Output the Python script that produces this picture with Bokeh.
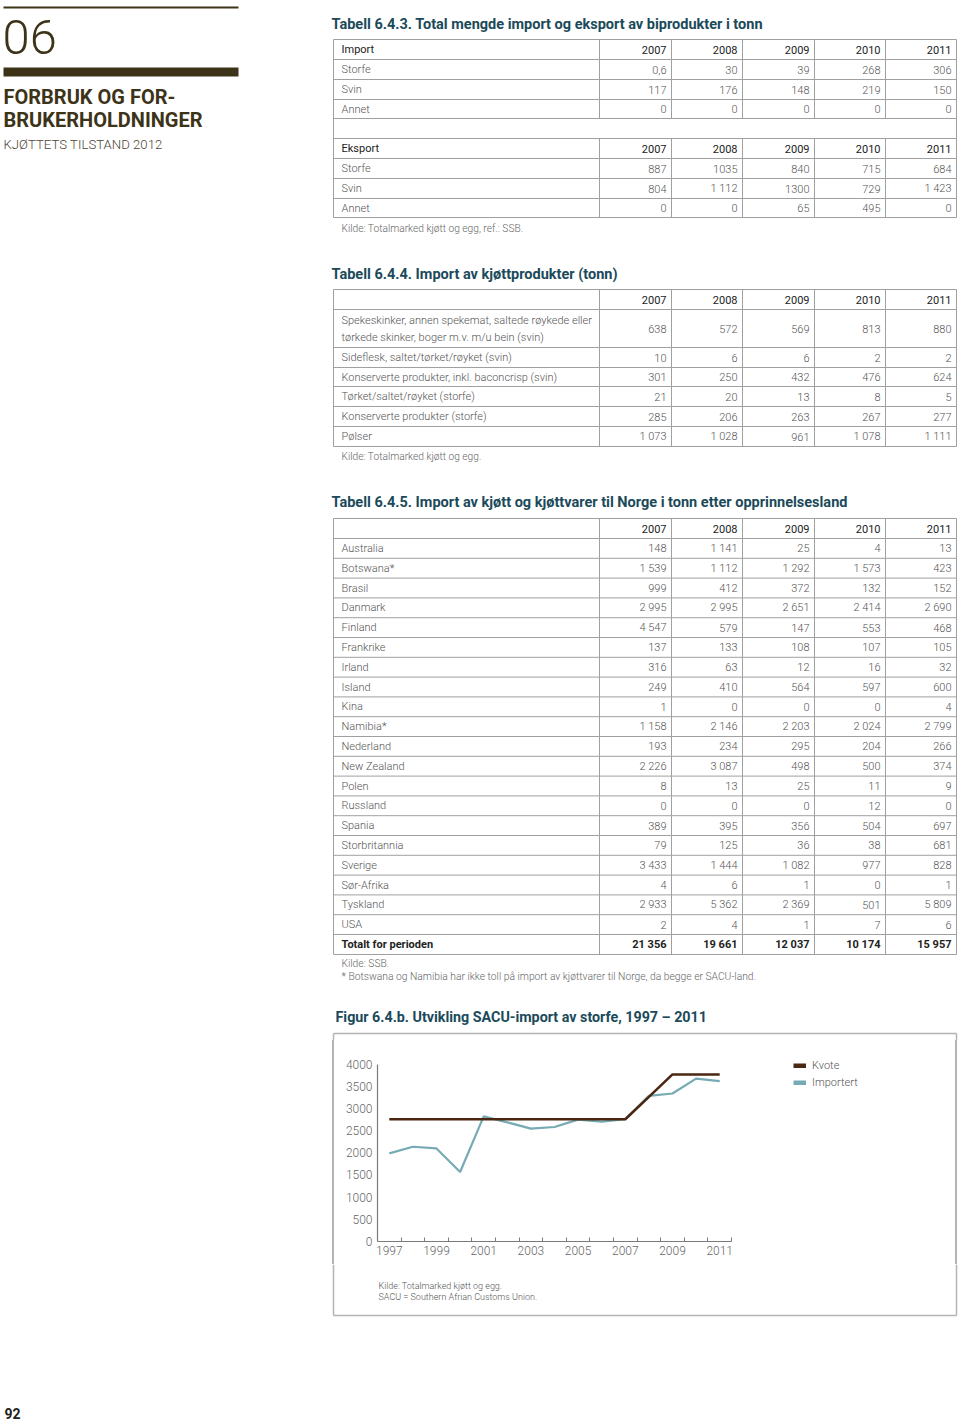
from bokeh.plotting import figure
from bokeh.models import (Range1d, FixedTicker, LinearAxis, Legend, LegendItem,
                          ColumnDataSource, Div, Spacer)
from bokeh.layouts import column, row
from bokeh.embed import file_html
from bokeh.resources import INLINE
from bokeh.core.properties import value

# ------------------------------------------------------------------ data
YEARS = ["2007", "2008", "2009", "2010", "2011"]

T1_IMPORT_LABELS = ["Storfe", "Svin", "Annet"]
T1_IMPORT = [["0,6", "30", "39", "268", "306"],
             ["117", "176", "148", "219", "150"],
             ["0", "0", "0", "0", "0"]]
T1_EXPORT_LABELS = ["Storfe", "Svin", "Annet"]
T1_EXPORT = [["887", "1035", "840", "715", "684"],
             ["804", "1 112", "1300", "729", "1 423"],
             ["0", "0", "65", "495", "0"]]

T2_LABELS = ["Spekeskinker, annen spekemat, saltede røykede eller|tørkede skinker, boger m.v. m/u bein (svin)",
             "Sideflesk, saltet/tørket/røyket (svin)",
             "Konserverte produkter, inkl. baconcrisp (svin)",
             "Tørket/saltet/røyket (storfe)",
             "Konserverte produkter (storfe)",
             "Pølser"]
T2 = [["638", "572", "569", "813", "880"],
      ["10", "6", "6", "2", "2"],
      ["301", "250", "432", "476", "624"],
      ["21", "20", "13", "8", "5"],
      ["285", "206", "263", "267", "277"],
      ["1 073", "1 028", "961", "1 078", "1 111"]]

T3_COUNTRIES = ["Australia", "Botswana*", "Brasil", "Danmark", "Finland", "Frankrike",
                "Irland", "Island", "Kina", "Namibia*", "Nederland", "New Zealand",
                "Polen", "Russland", "Spania", "Storbritannia", "Sverige", "Sør-Afrika",
                "Tyskland", "USA"]
T3 = [["148", "1 141", "25", "4", "13"],
      ["1 539", "1 112", "1 292", "1 573", "423"],
      ["999", "412", "372", "132", "152"],
      ["2 995", "2 995", "2 651", "2 414", "2 690"],
      ["4 547", "579", "147", "553", "468"],
      ["137", "133", "108", "107", "105"],
      ["316", "63", "12", "16", "32"],
      ["249", "410", "564", "597", "600"],
      ["1", "0", "0", "0", "4"],
      ["1 158", "2 146", "2 203", "2 024", "2 799"],
      ["193", "234", "295", "204", "266"],
      ["2 226", "3 087", "498", "500", "374"],
      ["8", "13", "25", "11", "9"],
      ["0", "0", "0", "12", "0"],
      ["389", "395", "356", "504", "697"],
      ["79", "125", "36", "38", "681"],
      ["3 433", "1 444", "1 082", "977", "828"],
      ["4", "6", "1", "0", "1"],
      ["2 933", "5 362", "2 369", "501", "5 809"],
      ["2", "4", "1", "7", "6"]]
T3_TOTAL = ["21 356", "19 661", "12 037", "10 174", "15 957"]

SACU_YEARS = [1997, 1998, 1999, 2000, 2001, 2002, 2003, 2004, 2005, 2006, 2007,
              2008, 2009, 2010, 2011]
KVOTE = [2755, 2755, 2755, 2755, 2755, 2755, 2755, 2755, 2755, 2755, 2755,
         3260, 3765, 3765, 3765]
IMPORTERT = [1985, 2135, 2097, 1567, 2820, 2686, 2545, 2580, 2746, 2701, 2755,
             3283, 3335, 3670, 3612]
X_TICK_YEARS = [1997, 1999, 2001, 2003, 2005, 2007, 2009, 2011]
Y_TICKS = [0, 500, 1000, 1500, 2000, 2500, 3000, 3500, 4000]

# ------------------------------------------------------------------ style
FONT = "Roboto"
LIGHT = "Roboto Light"
BROWN = "#3d3318"
TEAL = "#1b4a5a"
BODY = "#555555"
HEAD = "#222222"
GRID = "#a0a0a0"
BOX = "#b4b4b4"
KV_COL = "#4b2712"
IM_COL = "#76abb4"

W, H = 960, 1423


def page_fig(width, height, xr, yr):
    f = figure(width=width, height=height, x_range=Range1d(*xr), y_range=Range1d(*yr),
               output_backend="svg", toolbar_location=None, min_border=0,
               x_axis_location=None, y_axis_location=None)
    f.grid.visible = False
    f.outline_line_color = None
    f.background_fill_color = "white"
    f.border_fill_color = "white"
    return f


class Canvas:
    def __init__(self, fig):
        self.f = fig
        self.texts = {}
        self.segs = {}

    def t(self, x, y, s, size=11, color=BODY, align="left", style="normal",
          font=LIGHT, baseline="middle"):
        key = (size, color, align, style, font, baseline)
        d = self.texts.setdefault(key, dict(x=[], y=[], text=[]))
        d["x"].append(x)
        d["y"].append(y)
        d["text"].append(s)

    def seg(self, x0, y0, x1, y1, color=GRID, width=1.0):
        d = self.segs.setdefault((color, width), dict(x0=[], y0=[], x1=[], y1=[]))
        d["x0"].append(x0)
        d["y0"].append(y0)
        d["x1"].append(x1)
        d["y1"].append(y1)

    def flush(self):
        for (color, width), d in self.segs.items():
            self.f.segment(x0="x0", y0="y0", x1="x1", y1="y1", source=ColumnDataSource(d),
                           line_color=color, line_width=width)
        for (size, color, align, style, font, baseline), d in self.texts.items():
            self.f.text(x="x", y="y", text="text", source=ColumnDataSource(d),
                        text_font=value(font), text_font_size=f"{size}px",
                        text_color=color, text_align=align, text_font_style=style,
                        text_baseline=baseline)


TL, TR = 333, 956
COLS = [599, 671, 742, 814, 885, 956]
LX = 341


def nx(i):
    return COLS[i + 1] - 5


BAND_T, BAND_B = 1040, 1264

# ------------------------------------------------------------------ top page
top = page_fig(W, BAND_T, (0, W), (BAND_T, 0))
c = Canvas(top)

# header
c.seg(3, 7, 238, 7, color=BROWN, width=2)
top.quad(left=[3], right=[238], top=[67], bottom=[76], fill_color=BROWN, line_color=None)
c.t(2, 36, "06", size=49, color=BROWN, font=LIGHT)
c.t(3, 96, "FORBRUK OG FOR-", size=20, color=BROWN, style="bold", font=FONT)
c.t(3, 119.5, "BRUKERHOLDNINGER", size=20, color=BROWN, style="bold", font=FONT)
c.t(3, 143.5, "KJØTTETS TILSTAND 2012", size=13.2, color="#4f4636", font=LIGHT)

# table 6.4.3
c.t(331, 24, "Tabell 6.4.3. Total mengde import og eksport av biprodukter i tonn",
    size=14.5, color=TEAL, style="bold", font=FONT)
for y in [39, 59, 79, 99, 118, 138, 158, 178, 198, 217]:
    c.seg(TL, y, TR, y)
c.seg(TL, 39, TL, 217)
c.seg(TR, 39, TR, 217)
for x in COLS[:-1]:
    c.seg(x, 39, x, 118)
    c.seg(x, 138, x, 217)
c.t(LX, 49, "Import", color=HEAD, font=FONT)
c.t(LX, 148, "Eksport", color=HEAD, font=FONT)
for i, yr in enumerate(YEARS):
    c.t(nx(i), 49, yr, color=HEAD, align="right", font=FONT)
    c.t(nx(i), 148, yr, color=HEAD, align="right", font=FONT)
for r, (lab, vals) in enumerate(zip(T1_IMPORT_LABELS, T1_IMPORT)):
    y = [69, 89, 108.5][r]
    c.t(LX, y, lab)
    for i, v in enumerate(vals):
        c.t(nx(i), y, v, align="right")
for r, (lab, vals) in enumerate(zip(T1_EXPORT_LABELS, T1_EXPORT)):
    y = [168, 188, 207.5][r]
    c.t(LX, y, lab)
    for i, v in enumerate(vals):
        c.t(nx(i), y, v, align="right")
c.t(LX, 228, "Kilde: Totalmarked kjøtt og egg, ref.: SSB.", size=10.2, color="#666666")

# table 6.4.4
c.t(331, 274, "Tabell 6.4.4. Import av kjøttprodukter (tonn)", size=14.5, color=TEAL,
    style="bold", font=FONT)
for y in [289, 309, 347, 367, 386, 406, 426, 446]:
    c.seg(TL, y, TR, y)
c.seg(TL, 289, TL, 446)
c.seg(TR, 289, TR, 446)
for x in COLS[:-1]:
    c.seg(x, 289, x, 446)
for i, yr in enumerate(YEARS):
    c.t(nx(i), 299, yr, color=HEAD, align="right", font=FONT)
t2_centers = [328, 357, 376.5, 396, 416, 436]
for r, (lab, vals) in enumerate(zip(T2_LABELS, T2)):
    y = t2_centers[r]
    if "|" in lab:
        a, b = lab.split("|")
        c.t(LX, 319.5, a)
        c.t(LX, 337, b)
    else:
        c.t(LX, y, lab)
    for i, v in enumerate(vals):
        c.t(nx(i), y, v, align="right")
c.t(LX, 456, "Kilde: Totalmarked kjøtt og egg.", size=10.2, color="#666666")

# table 6.4.5
c.t(331, 502, "Tabell 6.4.5. Import av kjøtt og kjøttvarer til Norge i tonn etter opprinnelsesland",
    size=14.5, color=TEAL, style="bold", font=FONT)
T3_TOP, T3_HEAD, STEP = 518, 538, 19.8
n = len(T3_COUNTRIES)
t3_rows_bottom = T3_HEAD + STEP * n
T3_BOT = t3_rows_bottom + 20
c.seg(TL, T3_TOP, TR, T3_TOP)
c.seg(TL, T3_HEAD, TR, T3_HEAD)
for k in range(1, n + 1):
    c.seg(TL, T3_HEAD + STEP * k, TR, T3_HEAD + STEP * k)
c.seg(TL, T3_BOT, TR, T3_BOT)
c.seg(TL, T3_TOP, TL, T3_BOT)
c.seg(TR, T3_TOP, TR, T3_BOT)
for x in COLS[:-1]:
    c.seg(x, T3_TOP, x, T3_BOT)
for i, yr in enumerate(YEARS):
    c.t(nx(i), 528, yr, color=HEAD, align="right", font=FONT)
for r, (lab, vals) in enumerate(zip(T3_COUNTRIES, T3)):
    y = T3_HEAD + STEP * (r + 0.5)
    c.t(LX, y, lab)
    for i, v in enumerate(vals):
        c.t(nx(i), y, v, align="right")
yt = t3_rows_bottom + 10
c.t(LX, yt, "Totalt for perioden", color=HEAD, style="bold", font=FONT)
for i, v in enumerate(T3_TOTAL):
    c.t(nx(i), yt, v, color=HEAD, style="bold", align="right", font=FONT)
c.t(LX, 963, "Kilde: SSB.", size=10.3, color="#666666")
c.t(LX, 976, "* Botswana og Namibia har ikke toll på import av kjøttvarer til Norge, da begge er SACU-land.",
    size=10.3, color="#666666")

# figure title + box top
c.t(335, 1016, "Figur 6.4.b. Utvikling SACU-import av storfe, 1997 – 2011", size=14.3,
    color=TEAL, style="bold", font=FONT)
c.seg(333, 1033, 956, 1033, color=BOX, width=1.5)
c.seg(333, 1033, 333, BAND_T, color=BOX, width=1.5)
c.seg(956, 1033, 956, BAND_T, color=BOX, width=1.5)
c.flush()

# ------------------------------------------------------------------ chart band
BAND_HT = BAND_B - BAND_T
EDGE_L, EDGE_R = 332, 955
CHART_X0 = EDGE_L + 2
CHART_W = EDGE_R - CHART_X0
left_space = Spacer(width=EDGE_L, height=BAND_HT, margin=0)
left_edge = Div(text="", width=2, height=BAND_HT, margin=0,
                styles={"background-color": BOX})
right_edge = Div(text="", width=2, height=BAND_HT, margin=0,
                 styles={"background-color": BOX})
right_space = Spacer(width=W - EDGE_R - 2, height=BAND_HT, margin=0)

frame_left = 377
frame_right = EDGE_R
ppu = (731 - frame_left) / 15.0
x_end = 1996.5 + (frame_right - frame_left) / ppu
frame_bottom = 1241
ppv = (frame_bottom - 1063.5) / 4000.0
y_end = (frame_bottom - BAND_T) / ppv

chart = figure(width=CHART_W, height=BAND_HT,
               x_range=Range1d(1996.5, x_end), y_range=Range1d(0, y_end),
               output_backend="svg", toolbar_location=None,
               min_border_left=frame_left - CHART_X0, min_border_right=0,
               min_border_top=0, min_border_bottom=BAND_B - frame_bottom,
               x_axis_location=None, y_axis_location=None, margin=0)
chart.grid.visible = False
chart.outline_line_color = None
chart.background_fill_color = "white"
chart.border_fill_color = "white"

chart.line(SACU_YEARS, IMPORTERT, line_color=IM_COL, line_width=2.2)
chart.line(SACU_YEARS, KVOTE, line_color=KV_COL, line_width=2.6)

xaxis = LinearAxis(ticker=FixedTicker(ticks=X_TICK_YEARS,
                                      minor_ticks=[y + 0.5 for y in SACU_YEARS]),
                   bounds=(1996.5, 2011.5), axis_line_color="#7a7a7a", axis_line_width=1.2,
                   major_tick_line_color=None, major_tick_in=0, major_tick_out=0,
                   minor_tick_line_color="#7a7a7a", minor_tick_in=4, minor_tick_out=0,
                   major_label_standoff=4, major_label_text_font=LIGHT,
                   major_label_text_font_size="12px", major_label_text_color="#666666")
chart.add_layout(xaxis, "below")
yaxis = LinearAxis(ticker=FixedTicker(ticks=Y_TICKS), bounds=(0, 4000),
                   axis_line_color="#7a7a7a", axis_line_width=1.2,
                   major_tick_line_color=None, major_tick_in=0, major_tick_out=0,
                   minor_tick_line_color=None, major_label_standoff=5,
                   major_label_text_font=LIGHT, major_label_text_font_size="12px",
                   major_label_text_color="#666666")
chart.add_layout(yaxis, "left")

# legend swatches: hidden thick copies of the two series
rk = chart.line(SACU_YEARS, KVOTE, line_color=KV_COL, line_width=5, visible=False)
ri = chart.line(SACU_YEARS, IMPORTERT, line_color=IM_COL, line_width=5, visible=False)
legend = Legend(items=[LegendItem(label="Kvote", renderers=[rk]),
                       LegendItem(label="Importert", renderers=[ri])],
                location=(793 - frame_left, frame_bottom - 1089),
                orientation="vertical", glyph_width=13, glyph_height=5, label_standoff=6,
                label_height=13, spacing=4, padding=0, margin=0, border_line_color=None,
                background_fill_alpha=0, inactive_fill_alpha=0,
                label_text_font=LIGHT, label_text_font_size="11px",
                label_text_color="#555555")
chart.add_layout(legend)

band = row(left_space, left_edge, chart, right_edge, right_space, spacing=0)

# ------------------------------------------------------------------ bottom page
bot = page_fig(W, H - BAND_B, (0, W), (H, BAND_B))
cb = Canvas(bot)
cb.seg(333, BAND_B, 333, 1315, color=BOX, width=1.5)
cb.seg(956, BAND_B, 956, 1315, color=BOX, width=1.5)
cb.seg(333, 1315, 956, 1315, color=BOX, width=1.5)
cb.t(378, 1285, "Kilde: Totalmarked kjøtt og egg.", size=9, color="#555555")
cb.t(378, 1296.5, "SACU = Southern Afrian Customs Union.", size=9, color="#555555")
cb.t(4, 1413, "92", size=14, color="#222222", style="bold", font=FONT)
cb.flush()

layout = column(top, band, bot, spacing=0)
open("out.html", "w").write(file_html(layout, INLINE))
